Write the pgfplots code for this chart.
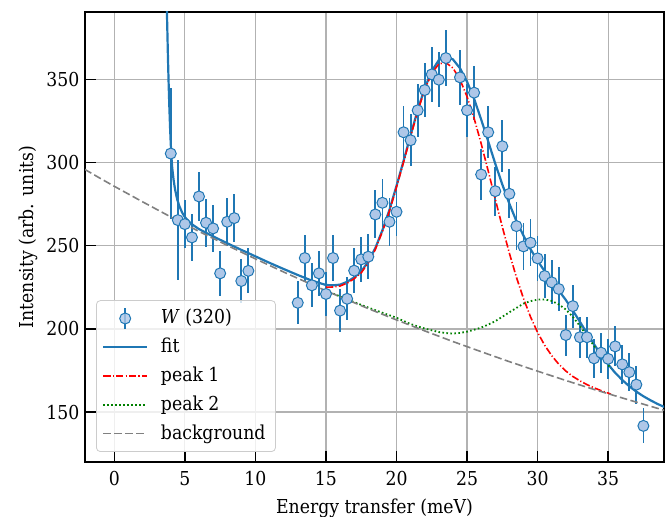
\documentclass[border=0pt]{standalone}
\usepackage{fontspec}
\setmainfont{DejaVu Serif Condensed}
\usepackage{pgfplots}
\usepackage{pgfplotstable}
\pgfplotsset{compat=1.18}
\usetikzlibrary{calc}

\definecolor{mplblue}{HTML}{1F77B4}
\definecolor{ltblue}{HTML}{AEC7E8}
\definecolor{mplgreen}{RGB}{0,128,0}

% measured points: x, intensity, error
\pgfplotstableread{
x y e
4.0 305.4 39.5
4.5 265.4 36.0
5.0 263.0 14.3
5.5 255.0 14.1
6.0 279.6 14.7
6.5 263.8 14.3
7.0 260.4 14.2
7.5 233.4 13.4
8.0 264.4 14.3
8.5 266.6 14.4
9.0 228.8 13.3
9.5 234.9 13.5
13.0 215.7 12.9
13.5 242.6 13.7
14.0 226.2 13.2
14.5 233.4 13.4
15.0 221.0 13.1
15.5 242.6 13.7
16.0 211.0 12.8
16.5 218.1 13.0
17.0 235.0 13.5
17.5 241.8 13.7
18.0 243.4 13.7
18.5 268.8 14.4
19.0 275.8 14.6
19.5 264.4 14.3
20.0 270.4 14.5
20.5 318.2 15.7
21.0 313.4 15.6
21.5 331.4 16.0
22.0 343.6 16.3
22.5 353.0 16.5
23.0 349.8 16.5
23.5 362.8 16.8
24.5 351.2 16.5
25.0 331.4 16.0
25.5 342.0 16.3
26.0 292.8 15.1
26.5 318.2 15.7
27.0 282.8 14.8
27.5 309.8 15.5
28.0 281.2 14.8
28.5 261.8 14.2
29.0 249.6 13.9
29.5 251.8 14.0
30.0 242.4 13.7
30.5 231.8 13.4
31.0 228.0 13.3
31.5 224.0 13.2
32.0 196.3 12.3
32.5 213.7 12.9
33.0 195.0 12.3
33.5 195.0 12.3
34.0 182.3 11.9
34.5 185.7 12.0
35.0 182.0 11.9
35.5 189.5 12.1
36.0 178.7 11.8
36.5 174.0 11.6
37.0 166.5 11.4
37.5 141.7 10.5
}\datatab

\pgfplotstableread{
x y
3.70 400
3.75 382
3.80 363
3.85 347
3.90 333
3.95 321
4.00 311
4.05 303
4.10 297
4.20 289.5
4.30 284
4.45 278
4.60 274
4.80 270
5.00 267.2
5.30 264.4
5.60 262.3
6.0 260.0
7.0 255.6
8.0 251.5
9.0 247.5
10 243.6
11 239.7
12 236.0
13 232.4
14 229.0
15 226.4
15.5 226.2
16 226.6
16.5 228.3
17 231.0
17.5 234.5
18 240.6
18.5 248.6
19 259.3
19.5 271.6
20 286.0
20.5 301.0
21 316.5
21.5 331.5
22 344.7
22.5 355.0
23 361.6
23.5 363.7
24 362.0
24.5 356.7
25 348.6
25.5 338.3
26 325.9
26.5 312.7
27 299.3
27.5 286.8
28 275.2
28.5 264.8
29 256.1
29.5 247.9
30 240.9
30.5 234.7
31 228.9
31.5 223.1
32 217.4
32.5 211.0
33 204.3
33.5 197.4
34 190.8
34.5 184.4
35 178.7
35.5 173.6
36 169.3
36.5 165.5
37 162.3
37.5 159.5
38 157.1
38.5 154.9
39 153.0
}\fittab

\pgfplotstableread{
x y
15 225.0
15.5 225.2
16 225.8
16.5 227.5
17 230.2
17.5 233.7
18 239.8
18.5 247.8
19 258.5
19.5 270.8
20 285.2
20.5 300.2
21 315.7
21.5 330.7
22 343.9
22.5 353.6
23 359.3
23.5 360.1
24 356.8
24.5 349.9
25 339.6
25.5 326.6
26 311.4
26.5 294.9
27 278.0
27.5 261.3
28 245.5
28.5 231.0
29 218.3
29.5 207.2
30 197.9
30.5 190.2
31 183.9
31.5 178.8
32 174.7
32.5 171.4
33 168.8
33.5 166.5
34 164.6
34.5 162.9
35 161.4
35.2 160.8
}\peakone

\pgfplotstableread{
x y
15 223.0
16 219.5
17 216.1
18 212.8
19 209.7
20 206.7
21 202.9
22 200.2
23 198.1
23.5 197.5
24 197.2
24.5 197.6
25 198.3
25.5 199.5
26 200.8
26.5 202.6
27 204.6
27.5 207.3
28 210.0
28.5 212.6
29 215.2
29.5 216.7
30 217.6
30.5 217.7
31 216.8
31.5 214.7
32 211.7
32.5 207.2
33 201.8
33.5 195.8
34 189.8
34.5 183.8
35 178.3
35.2 176.3
}\peaktwo

\pgfplotstableread{
x y
-2.1 295.9
-1 290.5
0 285.7
2 276.4
4 267.3
6 258.6
8 250.2
10 242.1
12 234.2
14 226.6
16 219.3
18 212.2
20 205.4
22 198.8
24 192.4
26 186.3
28 180.3
30 174.6
32 169.0
34 163.6
36 158.5
38 153.5
39 151.0
}\bgtab

\begin{document}
\begin{tikzpicture}
\begin{axis}[
    scale only axis, width=289.5pt, height=225pt,
    xmin=-2.08, xmax=38.96, ymin=120, ymax=390.5,
    xtick={0,5,...,35}, ytick={150,200,...,350},
    tick pos=left, tick align=inside,
    major tick length=5.5pt,
    every tick/.style={black, line width=0.7pt},
    grid=major,
    major grid style={color=black!30, line width=0.6pt},
    axis line style={line width=0.7pt},
    /pgf/number format/assume math mode=true,
    tick label style={font=\fontsize{9.6}{11}\selectfont},
    label style={font=\fontsize{9.6}{11}\selectfont},
    xticklabel style={yshift=-1.2pt},
    yticklabel style={xshift=0.7pt},
    xlabel={Energy transfer (meV)},
    ylabel={Intensity (arb. units)},
    xlabel style={at={(axis description cs:0.5,-0.1149)}, anchor=base},
    ylabel style={at={(axis description cs:-0.0984,0.5)}, anchor=center},
    legend cell align=left,
    legend image code/.code={
        \draw[#1] plot coordinates {(0pt,0pt) (10.85pt,0pt) (21.7pt,0pt)};},
    legend style={at={(0,0)}, anchor=south west, xshift=5.5pt, yshift=5pt,
        draw=black!20, rounded corners=2pt, fill=white, fill opacity=0.8,
        text opacity=1, font=\fontsize{9.6}{11}\selectfont,
        row sep=2.5pt, column sep=4.5pt, inner xsep=3pt, inner ysep=3pt,
        nodes={inner ysep=1.2pt, text height=7.5pt, text depth=2pt}},
]
\addplot[only marks, mark=*, mark size=2.75pt,
    mark options={fill=ltblue, draw=mplblue, line width=0.5pt},
    legend image code/.code={
        \draw[mplblue, line width=0.9pt] (10.85pt,-5.35pt) -- (10.85pt,5.35pt);
        \draw[mplblue, fill=ltblue, line width=0.5pt] (10.85pt,0pt) circle (2.75pt);},
    error bars/.cd, y dir=both, y explicit, error mark=none,
    error bar style={mplblue, line width=0.9pt}]
    table[x=x, y=y, y error=e] {\datatab};
\addlegendentry{\textit{W} (320)}
\addplot[mplblue, line width=1.1pt] table[x=x, y=y] {\fittab};
\addlegendentry{fit}
\addplot[red, line width=0.8pt, dash pattern=on 3.6pt off 1.1pt on 0.6pt off 1.1pt] table[x=x, y=y] {\peakone};
\addlegendentry{peak 1}
\addplot[mplgreen, line width=0.9pt, dash pattern=on 0.8pt off 1.2pt] table[x=x, y=y] {\peaktwo};
\addlegendentry{peak 2}
\addplot[gray, line width=0.8pt, dash pattern=on 3.8pt off 1.7pt] table[x=x, y=y] {\bgtab};
\addlegendentry{background}
\end{axis}
\pgfresetboundingbox
\path ($(current axis.south west)+(-42.5pt,-27.5pt)$) rectangle ($(current axis.north east)+(0.5pt,6pt)$);
\end{tikzpicture}
\end{document}
